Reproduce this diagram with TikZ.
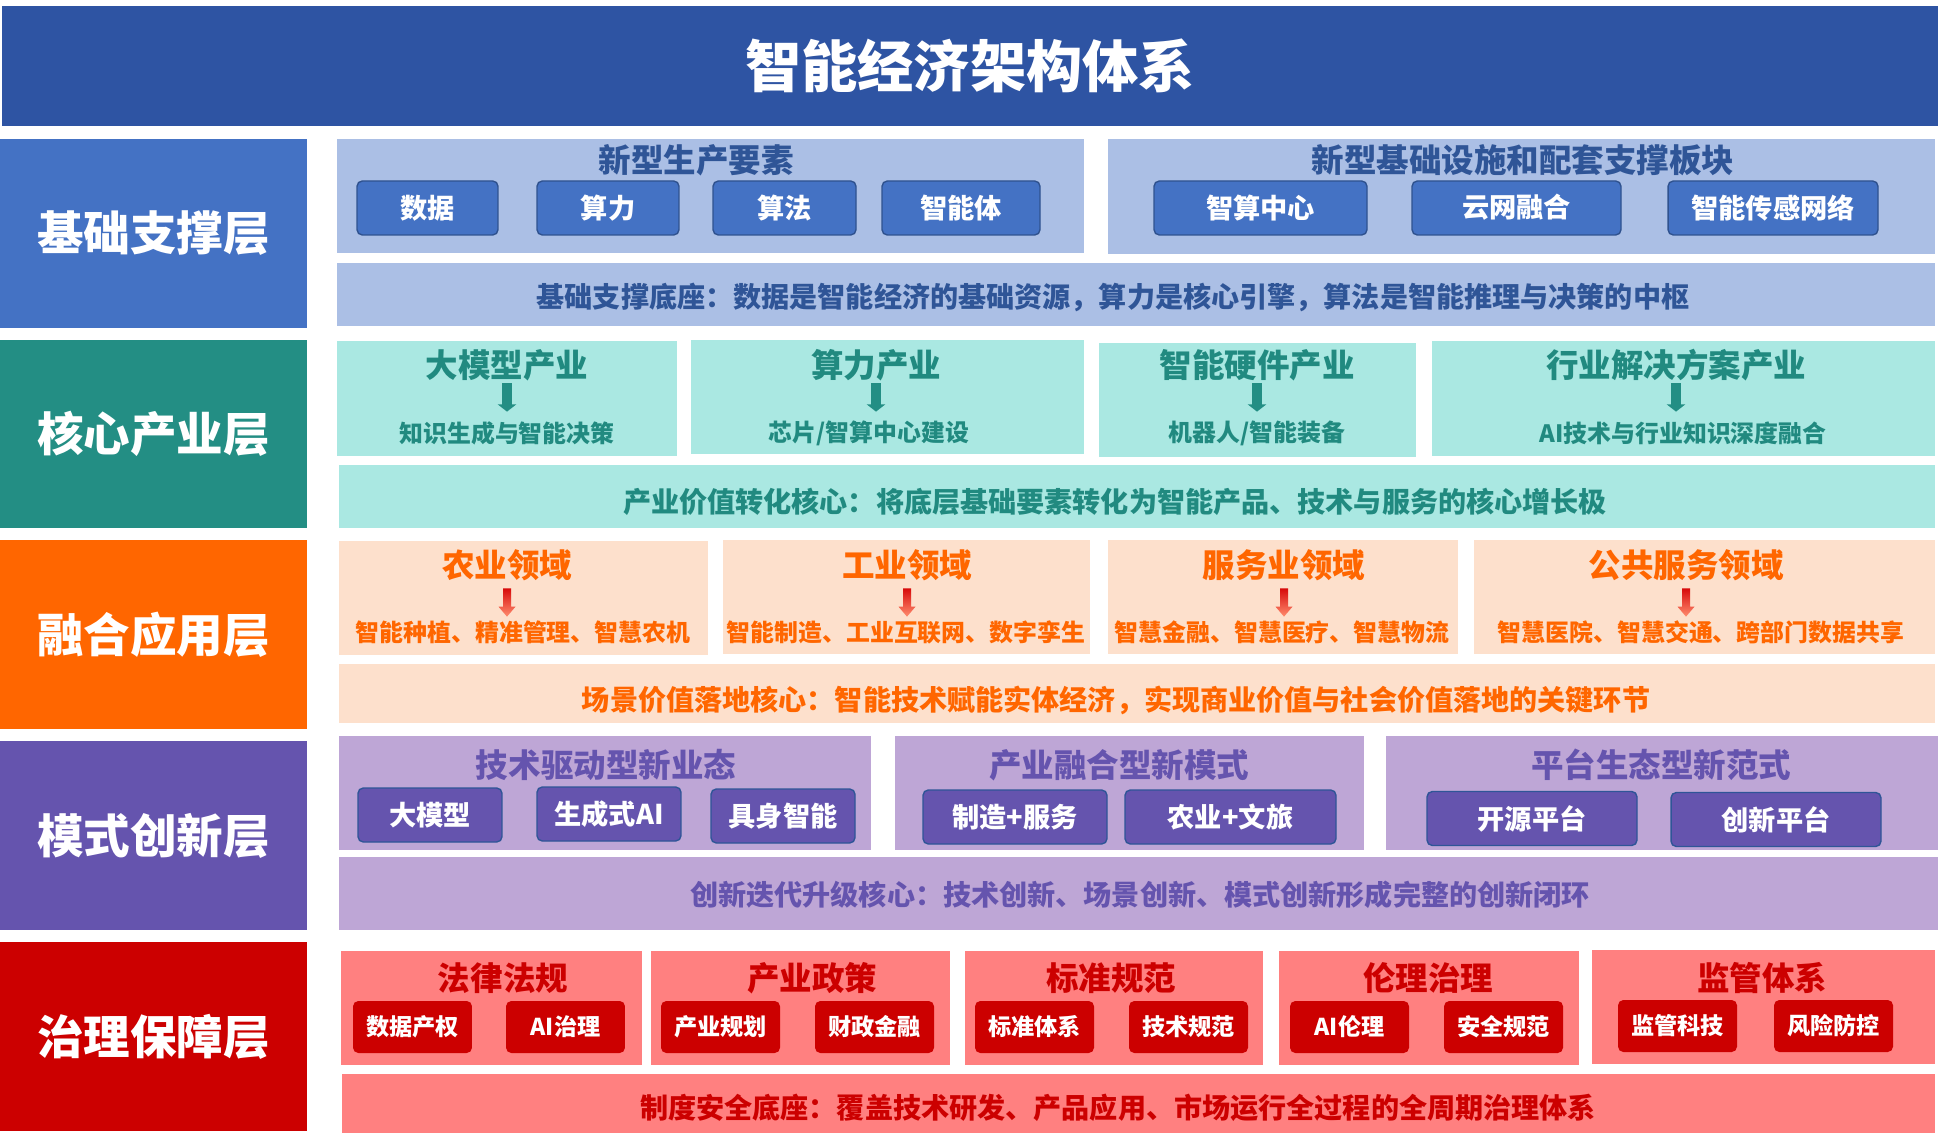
\documentclass[tikz,border=0pt]{standalone}
\usepackage{fontspec}
\setmainfont{Noto Sans CJK SC}
\usetikzlibrary{arrows.meta,calc,fit,positioning}
\definecolor{topblue}{RGB}{46,84,163}
\definecolor{baseblue}{RGB}{68,114,196}
\definecolor{baselight}{RGB}{171,191,229}
\definecolor{baseline}{RGB}{47,82,143}
\definecolor{basetext}{RGB}{47,85,151}
\definecolor{coreteal}{RGB}{35,142,132}
\definecolor{corelight}{RGB}{170,232,226}
\definecolor{coretext}{RGB}{33,138,128}
\definecolor{apporange}{RGB}{255,102,0}
\definecolor{applight}{RGB}{253,224,204}
\definecolor{arrtop}{RGB}{215,10,10}
\definecolor{arrbot}{RGB}{255,140,110}
\definecolor{modpurple}{RGB}{101,84,174}
\definecolor{modlight}{RGB}{190,166,214}
\definecolor{modline}{RGB}{47,85,151}
\definecolor{govred}{RGB}{204,0,0}
\definecolor{govlight}{RGB}{255,128,128}
\tikzset{>=latex}
\tikzset{panel/.style={inner sep=0pt, outer sep=0pt, fill=#1}}
\tikzset{lyrbox/.style={panel=#1, minimum width=6.14cm, minimum height=3.78cm, text=white, font=\fontsize{26.5}{30}\selectfont\bfseries}}
\tikzset{chip/.style={panel=#1, rounded corners=3pt, minimum height=1.08cm, text=white, font=\fontsize{15.5}{18}\selectfont\bfseries}}
\tikzset{govchip/.style={panel=govred, rounded corners=3pt, minimum width=2.38cm, minimum height=1.04cm, text=white, font=\fontsize{13.2}{16}\selectfont\bfseries}}
\tikzset{grphead/.style={text=#1, inner sep=0pt, font=\fontsize{18.5}{22}\selectfont\bfseries}}
\tikzset{subline/.style={text=#1, inner sep=0pt, font=\fontsize{13.6}{16}\selectfont\bfseries}}
\tikzset{barnote/.style={text=#1, inner sep=0pt, font=\fontsize{16}{19}\selectfont\bfseries}}
\tikzset{tealarrow/.style={draw=coreteal, line width=5.6pt, -{Triangle[width=10.5pt,length=4.2pt]}}}

\begin{document}
\begin{tikzpicture}[x=0.02cm,y=-0.02cm]
  \useasboundingbox (0,0) rectangle (1942,1141);
  % title
  \node[panel=topblue, minimum width=38.72cm, minimum height=2.4cm, text=white, font=\fontsize{32}{36}\selectfont\bfseries] (title) at (970,66) {智能经济架构体系};

  % layer 1
  \node[lyrbox=baseblue] (lay1) at (153.5,233.5) {基础支撑层};
  \node[panel=baselight, fit={(337,139) (1084,253)}] (g1a) {};
  \node[panel=baselight, fit={(1108,139) (1935,254)}] (g1b) {};
  \node[grphead=basetext] (h1a) at (696,160) {新型生产要素};
  \node[grphead=basetext] (h1b) at (1523,160) {新型基础设施和配套支撑板块};
  \node[chip=baseblue, draw=baseline, line width=0.8pt, minimum width=2.82cm] (shuju) at (427.5,208) {数据};
  \node[chip=baseblue, draw=baseline, line width=0.8pt, minimum width=2.84cm] (suanli) at (608,208) {算力};
  \node[chip=baseblue, draw=baseline, line width=0.8pt, minimum width=2.86cm] (suanfa) at (784.5,208) {算法};
  \node[chip=baseblue, draw=baseline, line width=0.8pt, minimum width=3.16cm] (agent) at (961,208) {智能体};
  \node[chip=baseblue, draw=baseline, line width=0.8pt, minimum width=4.26cm] (zszx) at (1260.5,208) {智算中心};
  \node[chip=baseblue, draw=baseline, line width=0.8pt, minimum width=4.18cm, text height=1.9ex, text depth=-1.2ex] (ywrh) at (1516.5,208) {云网融合};
  \node[chip=baseblue, draw=baseline, line width=0.8pt, minimum width=4.2cm] (cgwl) at (1773,208) {智能传感网络};
  \node[panel=baselight, fit={(337,263) (1935,326)}] (bar1) {};
  \node[barnote=basetext] (n1) at (1113,297) {基础支撑底座：数据是智能经济的基础资源，算力是核心引擎，算法是智能推理与决策的中枢};

  % layer 2
  \node[lyrbox=coreteal] (lay2) at (153.5,434) {核心产业层};
  \node[panel=corelight, fit={(337,341) (677,456)}] (c1) {};
  \node[panel=corelight, fit={(691,340) (1084,454)}] (c2) {};
  \node[panel=corelight, fit={(1099,343) (1416,457)}] (c3) {};
  \node[panel=corelight, fit={(1432,341) (1935,456)}] (c4) {};
  \node[grphead=coretext, minimum height=0.72cm] (ct1) at (507,365) {大模型产业};
  \node[grphead=coretext, minimum height=0.72cm] (ct2) at (876,365) {算力产业};
  \node[grphead=coretext, minimum height=0.72cm] (ct3) at (1257,365) {智能硬件产业};
  \node[grphead=coretext, minimum height=0.72cm] (ct4) at (1676,365) {行业解决方案产业};
  \node[subline=coretext, minimum height=0.84cm] (cs1) at (507,433) {知识生成与智能决策};
  \node[subline=coretext, minimum height=0.84cm] (cs2) at (869,433) {芯片/智算中心建设};
  \node[subline=coretext, minimum height=0.84cm] (cs3) at (1257,433) {机器人/智能装备};
  \node[subline=coretext, minimum height=0.84cm] (cs4) at (1683,433) {AI技术与行业知识深度融合};
  \foreach \i in {1,...,4}
    \draw[tealarrow] (ct\i.south) -- (ct\i.south |- cs\i.north);
  \node[panel=corelight, fit={(339,465) (1935,528)}] (bar2) {};
  \node[barnote=coretext] (n2) at (1115,502) {产业价值转化核心：将底层基础要素转化为智能产品、技术与服务的核心增长极};

  % layer 3
  \node[lyrbox=apporange] (lay3) at (153.5,634.5) {融合应用层};
  \node[panel=applight, fit={(339,541) (708,655)}] (a1) {};
  \node[panel=applight, fit={(723,540) (1090,654)}] (a2) {};
  \node[panel=applight, fit={(1108,540) (1458,654)}] (a3) {};
  \node[panel=applight, fit={(1474,540) (1935,654)}] (a4) {};
  \node[grphead=apporange, minimum height=0.92cm] (at1) at (507,565) {农业领域};
  \node[grphead=apporange, minimum height=0.92cm] (at2) at (907,565) {工业领域};
  \node[grphead=apporange, minimum height=0.92cm] (at3) at (1284,565) {服务业领域};
  \node[grphead=apporange, minimum height=0.92cm] (at4) at (1686,565) {公共服务领域};
  \node[subline=apporange, minimum height=0.6cm] (as1) at (523,632) {智能种植、精准管理、智慧农机};
  \node[subline=apporange, minimum height=0.6cm] (as2) at (906,632) {智能制造、工业互联网、数字孪生};
  \node[subline=apporange, minimum height=0.6cm] (as3) at (1282,632) {智慧金融、智慧医疗、智慧物流};
  \node[subline=apporange, minimum height=0.6cm] (as4) at (1701,632) {智慧医院、智慧交通、跨部门数据共享};
  \foreach \i in {1,...,4}
    \shade[top color=arrtop, bottom color=arrbot]
      ($(at\i.south)+(-4,0)$) -- ($(at\i.south)+(4,0)$) -- ($(at\i.south |- as\i.north)+(4,-10)$)
      -- ($(at\i.south |- as\i.north)+(8.5,-10)$) -- (at\i.south |- as\i.north)
      -- ($(at\i.south |- as\i.north)+(-8.5,-10)$) -- ($(at\i.south |- as\i.north)+(-4,-10)$) -- cycle;
  \node[panel=applight, fit={(339,664) (1935,723)}] (bar3) {};
  \node[barnote=apporange] (n3) at (1116,700) {场景价值落地核心：智能技术赋能实体经济，实现商业价值与社会价值落地的关键环节};

  % layer 4
  \node[lyrbox=modpurple] (lay4) at (153.5,835.5) {模式创新层};
  \node[panel=modlight, fit={(339,736) (871,850)}] (m1) {};
  \node[panel=modlight, fit={(895,736) (1364,850)}] (m2) {};
  \node[panel=modlight, fit={(1386,736) (1938,850)}] (m3) {};
  \node[grphead=modpurple] (mh1) at (606,765) {技术驱动型新业态};
  \node[grphead=modpurple] (mh2) at (1119,765) {产业融合型新模式};
  \node[grphead=modpurple] (mh3) at (1661,765) {平台生态型新范式};
  \node[chip=modpurple, draw=modline, line width=0.8pt, minimum width=2.88cm] (dmx) at (430,815) {大模型};
  \node[chip=modpurple, draw=modline, line width=0.8pt, minimum width=2.88cm] (scs) at (609,814) {生成式AI};
  \node[chip=modpurple, draw=modline, line width=0.8pt, minimum width=2.88cm] (jszn) at (783,816) {具身智能};
  \node[chip=modpurple, draw=modline, line width=0.8pt, minimum width=3.68cm] (zzfw) at (1015,817) {制造+服务};
  \node[chip=modpurple, draw=modline, line width=0.8pt, minimum width=4.22cm] (nywl) at (1230.5,817) {农业+文旅};
  \node[chip=modpurple, draw=modline, line width=0.8pt, minimum width=4.2cm] (kypt) at (1532,818.5) {开源平台};
  \node[chip=modpurple, draw=modline, line width=0.8pt, minimum width=4.2cm] (cxpt) at (1776,819.5) {创新平台};
  \node[panel=modlight, fit={(339,857) (1938,930)}] (bar4) {};
  \node[barnote=modpurple] (n4) at (1140,895) {创新迭代升级核心：技术创新、场景创新、模式创新形成完整的创新闭环};

  % layer 5
  \node[lyrbox=govred] (lay5) at (153.5,1036.5) {治理保障层};
  \node[panel=govlight, fit={(341,951) (642,1065)}] (r1) {};
  \node[panel=govlight, fit={(651,951) (950,1065)}] (r2) {};
  \node[panel=govlight, fit={(965,951) (1263,1065)}] (r3) {};
  \node[panel=govlight, fit={(1279,951) (1579,1065)}] (r4) {};
  \node[panel=govlight, fit={(1592,950) (1935,1064)}] (r5) {};
  \node[grphead=govred] (rh1) at (503,978) {法律法规};
  \node[grphead=govred] (rh2) at (812,978) {产业政策};
  \node[grphead=govred] (rh3) at (1111,978) {标准规范};
  \node[grphead=govred] (rh4) at (1428,978) {伦理治理};
  \node[grphead=govred] (rh5) at (1762,978) {监管体系};
  \node[govchip] (sjcq) at (412.5,1027) {数据产权};
  \node[govchip] (aizl) at (565.5,1027) {AI治理};
  \node[govchip] (cygh) at (720.5,1027) {产业规划};
  \node[govchip] (czjr) at (874.5,1027) {财政金融};
  \node[govchip] (bztx) at (1034.5,1027) {标准体系};
  \node[govchip] (jsgf) at (1188.5,1027) {技术规范};
  \node[govchip] (aill) at (1349.5,1027) {AI伦理};
  \node[govchip] (aqgf) at (1503.5,1027) {安全规范};
  \node[govchip] (jgkj) at (1677.5,1026) {监管科技};
  \node[govchip] (fxfk) at (1833.5,1026) {风险防控};
  \node[panel=govlight, fit={(342,1074) (1935,1133)}] (bar5) {};
  \node[barnote=govred] (n5) at (1118,1108) {制度安全底座：覆盖技术研发、产品应用、市场运行全过程的全周期治理体系};
\end{tikzpicture}
\end{document}
